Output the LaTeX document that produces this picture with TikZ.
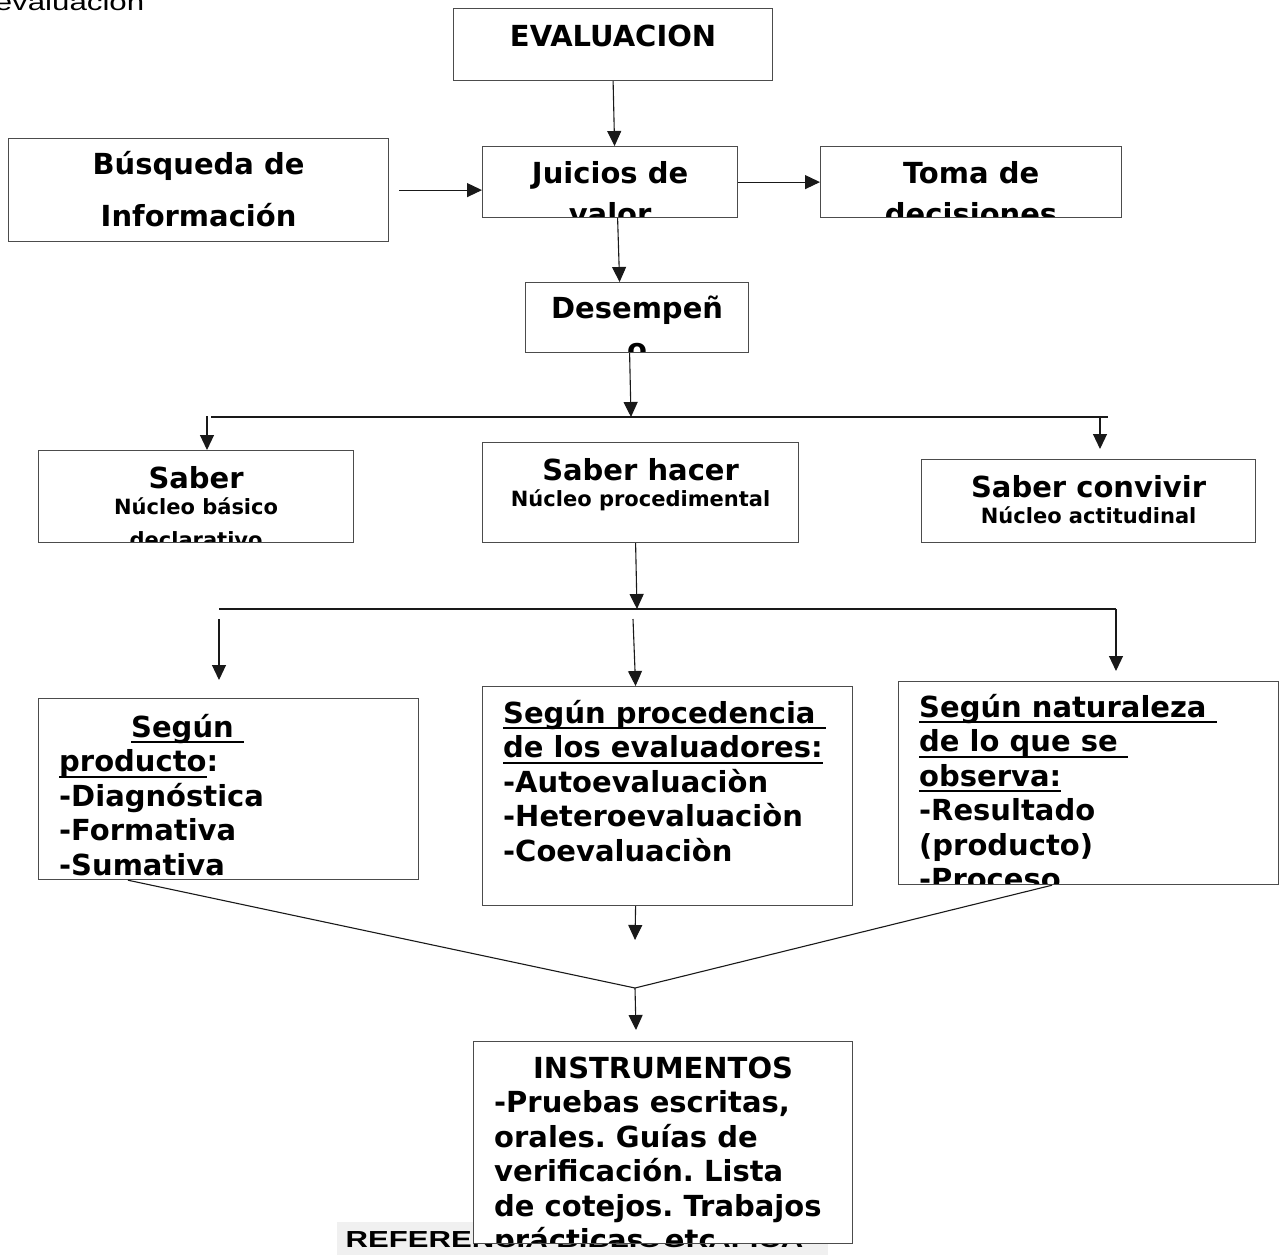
\documentclass[tikz,border=0pt]{standalone}
\usepackage{fontspec}
\setmainfont{DejaVu Sans}
\newfontfamily\reffont{Liberation Sans}
\usetikzlibrary{arrows.meta}
\frenchspacing
\tikzset{
  mapa/.style={x=1pt,y=-1pt,line width=1.1pt},
  caja/.style={draw=black!70,fill=white,line width=1.2pt,anchor=north west,inner sep=0pt},
  txt/.style={draw=none,fill=none,inner sep=0pt,minimum width=0pt,minimum height=0pt,text=black},
  grande/.style={txt,font=\bfseries\fontsize{29}{34.5}\selectfont},
  chica/.style={txt,font=\bfseries\fontsize{21}{30}\selectfont},
  flecha/.style={-{Triangle[width=14pt,length=15pt]},draw=black!90},
  linea/.style={draw=black!90},
}
\newcommand{\pri}{\rule{0pt}{1em}}
\newcommand{\subr}[1]{\sbox0{#1}\rlap{\rule[-6pt]{\wd0}{1.8pt}}\usebox0}

\begin{document}
\begin{tikzpicture}[mapa]
  \useasboundingbox (0,0) rectangle (1283,1254);
  \node[txt,anchor=base east,xscale=1.33,font=\reffont\fontsize{23.5}{28}\selectfont] (titulo) at (145,10) {evaluacion};

  \node[caja,minimum width=319pt,minimum height=72pt,
    path picture={\node[grande,anchor=north] at ([yshift=-8pt]path picture bounding box.north) {\pri EVALUACION};}] (eval) at (453,8) {};
  \node[caja,minimum width=380pt,minimum height=103pt,
    path picture={\node[grande,anchor=north,align=center,font=\bfseries\fontsize{29}{52}\selectfont] at ([yshift=-6pt]path picture bounding box.north) {\pri Búsqueda de\\Información};}] (busq) at (8,138) {};
  \node[caja,minimum width=255pt,minimum height=71pt,
    path picture={\node[grande,anchor=north,align=center,font=\bfseries\fontsize{29}{41}\selectfont] at ([yshift=-7pt]path picture bounding box.north) {\pri Juicios de\\valor};}] (juicios) at (482,146) {};
  \node[caja,minimum width=301pt,minimum height=71pt,
    path picture={\node[grande,anchor=north,align=center,font=\bfseries\fontsize{29}{41}\selectfont] at ([yshift=-7pt]path picture bounding box.north) {\pri Toma de\\decisiones};}] (toma) at (820,146) {};
  \node[caja,minimum width=223pt,minimum height=70pt,
    path picture={\node[grande,anchor=north,align=center,font=\bfseries\fontsize{29}{41}\selectfont] at ([yshift=-6pt]path picture bounding box.north) {\pri Desempeñ\\o};}] (desemp) at (525,282) {};

  \node[caja,minimum width=315pt,minimum height=92pt,
    path picture={\node[grande,anchor=north] at ([yshift=-8pt]path picture bounding box.north) {\pri Saber};
      \node[chica,anchor=north,align=center,font=\bfseries\fontsize{21}{33}\selectfont] at ([yshift=-42pt]path picture bounding box.north) {\pri Núcleo básico\\declarativo};}] (saber) at (38,450) {};
  \node[caja,minimum width=316pt,minimum height=100pt,
    path picture={\node[grande,anchor=north] at ([yshift=-8pt]path picture bounding box.north) {\pri Saber hacer};
      \node[chica,anchor=north] at ([yshift=-42pt]path picture bounding box.north) {\pri Núcleo procedimental};}] (hacer) at (482,442) {};
  \node[caja,minimum width=334pt,minimum height=83pt,
    path picture={\node[grande,anchor=north] at ([yshift=-8pt]path picture bounding box.north) {\pri Saber convivir};
      \node[chica,anchor=north] at ([yshift=-42pt]path picture bounding box.north) {\pri Núcleo actitudinal};}] (conviv) at (921,459) {};

  \node[caja,minimum width=380pt,minimum height=181pt,
    path picture={\node[grande,anchor=north west,align=left] at ([xshift=20pt,yshift=-9pt]path picture bounding box.north west)
      {\pri\hspace*{72pt}\subr{Según\ }\\\subr{producto}:\\-Diagnóstica\\-Formativa\\-Sumativa};}] (producto) at (38,698) {};
  \node[caja,minimum width=370pt,minimum height=219pt,
    path picture={\node[grande,anchor=north west,align=left] at ([xshift=20pt,yshift=-7pt]path picture bounding box.north west)
      {\pri\subr{Según procedencia\ }\\\subr{de los evaluadores:}\\-Autoevaluaciòn\\-Heteroevaluaciòn\\-Coevaluaciòn};}] (proced) at (482,686) {};
  \node[caja,minimum width=380pt,minimum height=203pt,
    path picture={\node[grande,anchor=north west,align=left] at ([xshift=20pt,yshift=-6pt]path picture bounding box.north west)
      {\pri\subr{Según naturaleza\ }\\\subr{de lo que se\ }\\\subr{observa:}\\-Resultado\\(producto)\\-Proceso};}] (natur) at (898,681) {};

  \fill[black!6] (337,1222) rectangle (828,1260);
  \node[txt,anchor=base west,xscale=1.34,font=\reffont\bfseries\fontsize{23.2}{28}\selectfont] (refbib) at (345,1247) {REFERENCIA BIBLIOGRAFICA};
  \node[caja,minimum width=379pt,minimum height=202pt,
    path picture={\node[grande,anchor=north west,align=left] at ([xshift=20pt,yshift=-7pt]path picture bounding box.north west)
      {\pri\hspace*{39pt}INSTRUMENTOS\\-Pruebas escritas,\\orales. Guías de\\verificación. Lista\\de cotejos. Trabajos\\prácticas, etc.};}] (instr) at (473,1041) {};

  \coordinate (r1) at (631,417);
  \coordinate (r1a) at (211,417);
  \coordinate (r1b) at (1108,417);
  \coordinate (r1l) at (207,416);
  \coordinate (r1r) at (1100,417);
  \coordinate (r1rx) at (1100,449);
  \coordinate (r2) at (637,609);
  \coordinate (r2a) at (219,609);
  \coordinate (r2b) at (1116,609);
  \coordinate (d2l) at (219,619);
  \coordinate (d2lx) at (219,680);
  \coordinate (d2m) at (633,619);
  \coordinate (d2rx) at (1116,671);
  \coordinate (v) at (635,988);
  \coordinate (c1) at (635,940);
  \coordinate (c2) at (636,1030);

  \draw[flecha] (eval.south) -- ([xshift=4.5pt]juicios.north);
  \draw[flecha] ([xshift=10pt]busq.east) -- (juicios.west |- busq.east);
  \draw[flecha] (juicios.east) -- (toma.west);
  \draw[flecha] ([xshift=7.5pt]juicios.south) -- ([xshift=-17.5pt]desemp.north);
  \draw[flecha] ([xshift=-7.5pt]desemp.south) -- (r1);
  \draw[linea] (r1a) -- (r1b);
  \draw[flecha] (r1l) -- (r1l |- saber.north);
  \draw[flecha] (r1r) -- (r1rx);
  \draw[flecha] ([xshift=-5pt]hacer.south) -- (r2);
  \draw[linea] (r2a) -- (r2b);
  \draw[flecha] (d2l) -- (d2lx);
  \draw[flecha] (d2m) -- ([xshift=-32pt]proced.north);
  \draw[flecha] (r2b) -- (d2rx);
  \draw[linea] ([xshift=90pt]producto.south west) -- (v) -- ([xshift=154pt]natur.south west);
  \draw[flecha] ([xshift=-32pt]proced.south) -- (c1);
  \draw[flecha] (v) -- (c2);
\end{tikzpicture}
\end{document}
